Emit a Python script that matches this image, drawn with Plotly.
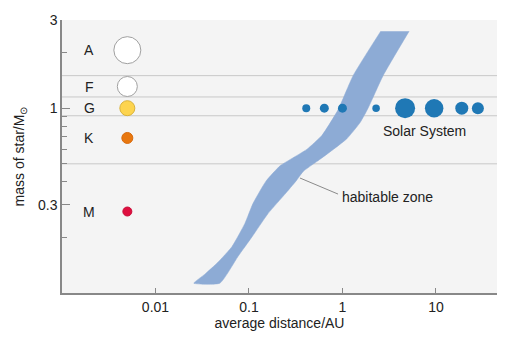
import numpy as np
import plotly.graph_objects as go

# ---- data ----
star_classes = ["A", "F", "G", "K", "M"]
star_mass = [2.06, 1.31, 1.0, 0.69, 0.276]
star_dist = [0.005, 0.005, 0.005, 0.005, 0.005]
star_size = [27, 20, 15, 11, 9]
star_fill = ["#ffffff", "#ffffff", "#fdd44e", "#e8770f", "#de0f3f"]
star_line = ["#a0a0a0", "#a0a0a0", "#d9b23a", "#d86a0c", "#c90d38"]

planet_names = ["Mercury", "Venus", "Earth", "Mars", "Jupiter", "Saturn", "Uranus", "Neptune"]
planet_dist = [0.41, 0.64, 1.0, 2.29, 4.68, 9.57, 18.9, 28.1]
planet_mass = [1.0, 1.0, 1.0, 1.0, 1.0, 1.0, 1.0, 1.0]
planet_size = [8, 9, 9, 7.5, 20, 18.5, 13, 12]

class_boundaries = [1.5, 1.15, 0.91, 0.5]

hz_inner_dist = [2.57, 1.30, 0.897, 0.605, 0.418, 0.28, 0.215, 0.152, 0.110, 0.0905, 0.0657, 0.0465, 0.0338, 0.0257]
hz_inner_mass = [2.61, 1.50, 0.98, 0.714, 0.600, 0.530, 0.488, 0.403, 0.304, 0.238, 0.178, 0.1465, 0.1265, 0.113]
hz_outer_dist = [5.17, 2.72, 1.88, 1.545, 1.11, 0.736, 0.531, 0.381, 0.318, 0.243, 0.160, 0.1076, 0.0762, 0.0489]
hz_outer_mass = [2.61, 1.50, 1.0, 0.836, 0.682, 0.580, 0.514, 0.455, 0.403, 0.343, 0.269, 0.201, 0.1575, 0.113]

pointer_dist = [0.351, 0.897]
pointer_mass = [0.419, 0.343]

x_range = [0.001, 45]
y_range = [0.1, 3]
y_major = [3, 1, 0.3]
y_minor = [2, 0.9, 0.8, 0.7, 0.6, 0.5, 0.4, 0.2]
x_major = [0.01, 0.1, 1, 10]

FONT = "Liberation Sans, Arial, sans-serif"
TXT = "#222222"

fig = go.Figure()

# class boundary lines (drawn first, under the band)
for b in class_boundaries:
    fig.add_trace(go.Scatter(x=x_range, y=[b, b], mode="lines",
                             line=dict(color="#c8c8c8", width=1), hoverinfo="skip", showlegend=False))

# habitable zone band
band_x = hz_inner_dist + hz_outer_dist[::-1]
band_y = hz_inner_mass + hz_outer_mass[::-1]
fig.add_trace(go.Scatter(x=band_x, y=band_y, mode="lines", fill="toself",
                         fillcolor="#8dabd5", line=dict(color="#8dabd5", width=0.5, shape="spline", smoothing=0.45),
                         hoverinfo="skip", showlegend=False))

# pointer line
fig.add_trace(go.Scatter(x=pointer_dist, y=pointer_mass, mode="lines",
                         line=dict(color="#8a8a8a", width=1), hoverinfo="skip", showlegend=False))

# stars
fig.add_trace(go.Scatter(x=star_dist, y=star_mass, mode="markers",
                         marker=dict(size=star_size, color=star_fill, opacity=1,
                                     line=dict(color=star_line, width=1)),
                         showlegend=False))

# planets
fig.add_trace(go.Scatter(x=planet_dist, y=planet_mass, mode="markers",
                         marker=dict(size=planet_size, color="#1f78b5", opacity=1, line=dict(width=0)),
                         showlegend=False))

# class labels
for c, m in zip(star_classes, star_mass):
    fig.add_annotation(x=np.log10(0.00196), y=np.log10(m), text=c, showarrow=False,
                       font=dict(family=FONT, size=14, color=TXT), xanchor="center", yanchor="middle")

fig.add_annotation(x=np.log10(planet_dist[5]) - 0.1, y=np.log10(0.755), text="Solar System", showarrow=False,
                   font=dict(family=FONT, size=14, color=TXT), xanchor="center", yanchor="middle")
fig.add_annotation(x=np.log10(0.93), y=np.log10(0.332), text="habitable zone", showarrow=False,
                   font=dict(family=FONT, size=14, color=TXT), xanchor="left", yanchor="middle")

fig.update_layout(
    width=512, height=341,
    margin=dict(l=62, r=15, t=15, b=48),
    paper_bgcolor="white", plot_bgcolor="#f4f4f4",
    font=dict(family=FONT, size=14, color=TXT),
    showlegend=False,
)
fig.update_xaxes(type="log", range=[np.log10(x_range[0]), np.log10(x_range[1])],
                 tickvals=x_major, ticktext=["0.01", "0.1", "1", "10"],
                 ticks="inside", ticklen=5, tickcolor="#888888",
                 showgrid=False, zeroline=False, showline=True, linecolor="#888888", linewidth=1.5,
                 title=dict(text="average distance/AU", standoff=2, font=dict(size=14)),
                 tickfont=dict(size=14))
fig.update_yaxes(type="log", range=[np.log10(y_range[0]), np.log10(y_range[1])],
                 tickvals=y_major, ticktext=["3", "1", "0.3"],
                 ticks="inside", ticklen=8, tickcolor="#888888",
                 minor=dict(tickvals=y_minor, ticks="inside", ticklen=5, tickcolor="#888888", showgrid=False),
                 showgrid=False, zeroline=False, showline=True, linecolor="#888888", linewidth=1.5,
                 title=dict(text="mass of star/M<sub>⊙</sub>", standoff=10, font=dict(size=14)),
                 tickfont=dict(size=14))

fig.write_html("out.html")
